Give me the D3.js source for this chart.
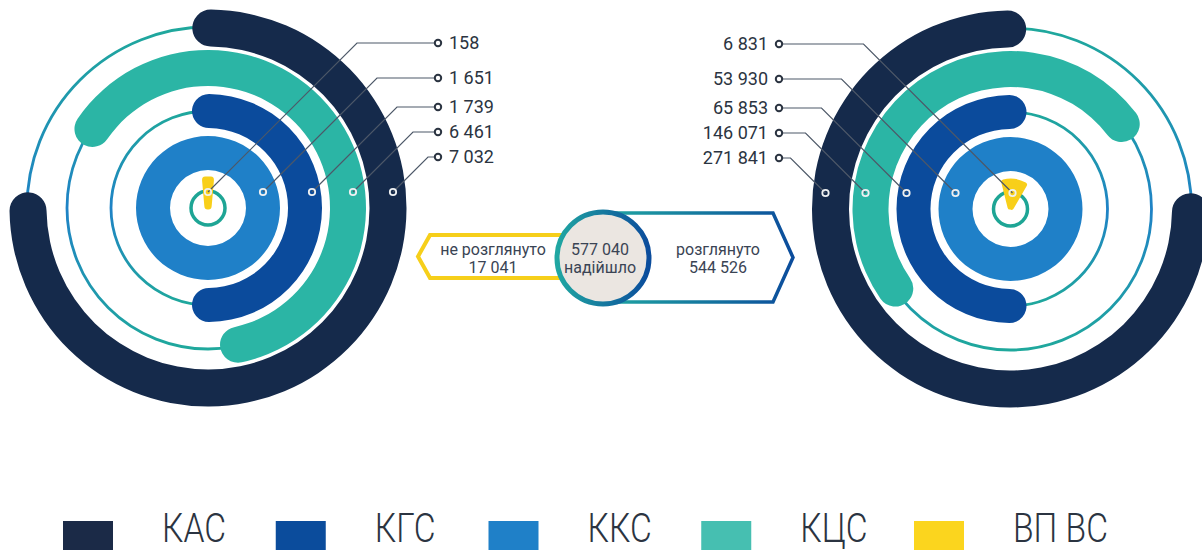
<!DOCTYPE html>
<html>
  <head>
    <meta charset="utf-8" />
    <script src="https://d3js.org/d3.v7.min.js"></script>
    <style>
      body { margin: 0; background: #fff; }
      text { font-family: "Roboto", sans-serif; }
    </style>
  </head>
  <body>
    <svg id="canvas" width="1202" height="553"></svg>
    <script>
      // categories and values
      const categories = ["КАС", "КГС", "ККС", "КЦС", "ВП ВС"];
      const colors = ["#152a4b", "#0b4b9c", "#1f80c8", "#2bb5a5", "#f8cf1a"];
      const legendColors = ["#1b2a47", "#0b4c9c", "#1f80c8", "#46bfb1", "#fbd51e"];

      const leftValues = [7032, 1739, 1651, 6461, 158];
      const rightValues = [271841, 65853, 53930, 146071, 6831];

      // arc extents in degrees (clockwise from 12 o'clock)
      const leftArcStart = [-5, -9.5, 0, -63, -5];
      const leftArcEnd = [275, 189.5, 360, 175, 5];
      const rightArcStart = [-275, -189.5, 0, -132, -14];
      const rightArcEnd = [5, 9.5, 360, 60, 30];

      const received = 577040;
      const notReviewed = 17041;
      const reviewed = 544526;

      // layout
      const ringRadius = [180, 97, 55, 140, 15];
      const ringWidth = [37, 34, 34, 36, 26];
      const dotOffset = [185, 104, 55, 145, 0];
      const labelSlots = [43, 78, 107, 132, 157];
      const trackRadii = [181, 141, 97];

      const fmt = d3.formatLocale({
        decimal: ",",
        thousands: " ",
        grouping: [3],
        currency: ["", ""],
      }).format(",d");

      const deg = d3.scaleLinear().domain([0, 360]).range([0, 2 * Math.PI]);

      const svg = d3.select("#canvas");
      const defs = svg.append("defs");

      let track = defs
        .append("linearGradient")
        .attr("id", "track")
        .attr("x1", 0).attr("y1", 0).attr("x2", 0).attr("y2", 1);
      track.append("stop").attr("offset", "0%").attr("stop-color", "#1fa89c");
      track.append("stop").attr("offset", "50%").attr("stop-color", "#1f82c6");
      track.append("stop").attr("offset", "100%").attr("stop-color", "#1fa89c");

      let edge = defs
        .append("linearGradient")
        .attr("id", "edge")
        .attr("x1", 0).attr("y1", 0).attr("x2", 1).attr("y2", 0);
      edge.append("stop").attr("offset", "0%").attr("stop-color", "#20a7a2");
      edge.append("stop").attr("offset", "100%").attr("stop-color", "#0b4c9c");

      // label order: by ring radius, innermost on top
      const order = d3.range(categories.length).sort((a, b) => ringRadius[a] - ringRadius[b]);

      function drawChart(cx, cy, starts, ends, values, side) {
        const g = svg.append("g").attr("transform", `translate(${cx},${cy})`);

        g.selectAll(".track")
          .data(trackRadii)
          .enter()
          .append("circle")
          .attr("r", (d) => d)
          .attr("fill", "none")
          .attr("stroke", "url(#track)")
          .attr("stroke-width", 2.8);

        const rings = [0, 3, 1, 2];
        rings.forEach((i) => {
          const arc = d3
            .arc()
            .innerRadius(ringRadius[i] - ringWidth[i] / 2)
            .outerRadius(ringRadius[i] + ringWidth[i] / 2)
            .startAngle(deg(starts[i]))
            .endAngle(deg(ends[i]))
            .cornerRadius(ringWidth[i] / 2);
          g.append("path").attr("d", arc()).attr("fill", colors[i]);
        });

        g.append("circle")
          .attr("r", 17)
          .attr("fill", "none")
          .attr("stroke", "#1ea595")
          .attr("stroke-width", 3.5);

        // ВП ВС: small wedge, rounded by a stroke of the same colour
        const yArc = d3
          .arc()
          .innerRadius(2)
          .outerRadius(ringRadius[4] + ringWidth[4] / 2)
          .startAngle(deg(starts[4]))
          .endAngle(deg(ends[4]));
        g.append("path")
          .attr("d", yArc())
          .attr("fill", colors[4])
          .attr("stroke", colors[4])
          .attr("stroke-width", side > 0 ? 7 : 5)
          .attr("stroke-linejoin", "round");

        const dotY = -16;
        const markerX = side > 0 ? 438 - cx : 779 - cx;

        order.forEach((i, k) => {
          const ly = labelSlots[k] - cy + (side > 0 ? 0 : 1);
          const dx = side * dotOffset[i] + (i === 4 && side < 0 ? 2 : 0);
          const kneeX = dx + side * (dotY - ly);
          g.append("path")
            .attr("d", d3.line()([[dx, dotY], [kneeX, ly], [markerX, ly]]))
            .attr("fill", "none")
            .attr("stroke", "#4d5868")
            .attr("stroke-width", 1.2);
          g.append("circle")
            .attr("cx", dx)
            .attr("cy", dotY)
            .attr("r", 3.2)
            .attr("fill", "none")
            .attr("stroke", "#eef0f2")
            .attr("stroke-width", 1.8);
          g.append("circle")
            .attr("cx", markerX)
            .attr("cy", ly)
            .attr("r", 3.2)
            .attr("fill", "#fff")
            .attr("stroke", "#2b3441")
            .attr("stroke-width", 2);
          g.append("text")
            .attr("x", markerX + side * 11)
            .attr("y", ly)
            .attr("dy", "0.36em")
            .attr("text-anchor", side > 0 ? "start" : "end")
            .attr("font-size", 18)
            .attr("fill", "#2b3441")
            .text(fmt(values[i]));
        });
      }

      drawChart(208, 208, leftArcStart, leftArcEnd, leftValues, 1);
      drawChart(1010.5, 209, rightArcStart, rightArcEnd, rightValues, -1);

      // summary in the middle
      const mid = svg.append("g");
      mid.append("path")
        .attr("d", d3.line()([[570, 235], [430, 235], [418, 256.5], [430, 278], [570, 278]]))
        .attr("fill", "#fff")
        .attr("stroke", "#f6cf1a")
        .attr("stroke-width", 4);
      mid.append("path")
        .attr("d", d3.line()([[603, 213], [773, 213], [793, 257.5], [773, 302], [603, 302]]))
        .attr("fill", "#fff")
        .attr("stroke", "url(#edge)")
        .attr("stroke-width", 3.5);
      mid.append("circle")
        .attr("cx", 603)
        .attr("cy", 258)
        .attr("r", 46)
        .attr("fill", "#ebe6e1")
        .attr("stroke", "url(#edge)")
        .attr("stroke-width", 5);

      const midText = [
        [600, received, "надійшло", true],
        [493, notReviewed, "не розглянуто", false],
        [718, reviewed, "розглянуто", false],
      ];
      midText.forEach(([x, v, label, numFirst]) => {
        const lines = numFirst ? [fmt(v), label] : [label, fmt(v)];
        lines.forEach((t, j) => {
          mid.append("text")
            .attr("x", x)
            .attr("y", 255 + j * 18)
            .attr("text-anchor", "middle")
            .attr("font-size", 16)
            .attr("fill", "#3a4454")
            .text(t);
        });
      });

      // legend
      const legendX = d3.scalePoint().domain(categories).range([63, 914]);
      const legend = svg.append("g");
      categories.forEach((c, i) => {
        const x = legendX(c);
        legend.append("rect")
          .attr("x", x)
          .attr("y", 521)
          .attr("width", 50)
          .attr("height", 29)
          .attr("fill", legendColors[i]);
        legend.append("text")
          .attr("transform", `translate(${x + 99},542) scale(0.84,1)`)
          .attr("font-size", 40)
          .attr("font-weight", 300)
          .attr("fill", "#2b3441")
          .text(c);
      });
    </script>
  </body>
</html>
